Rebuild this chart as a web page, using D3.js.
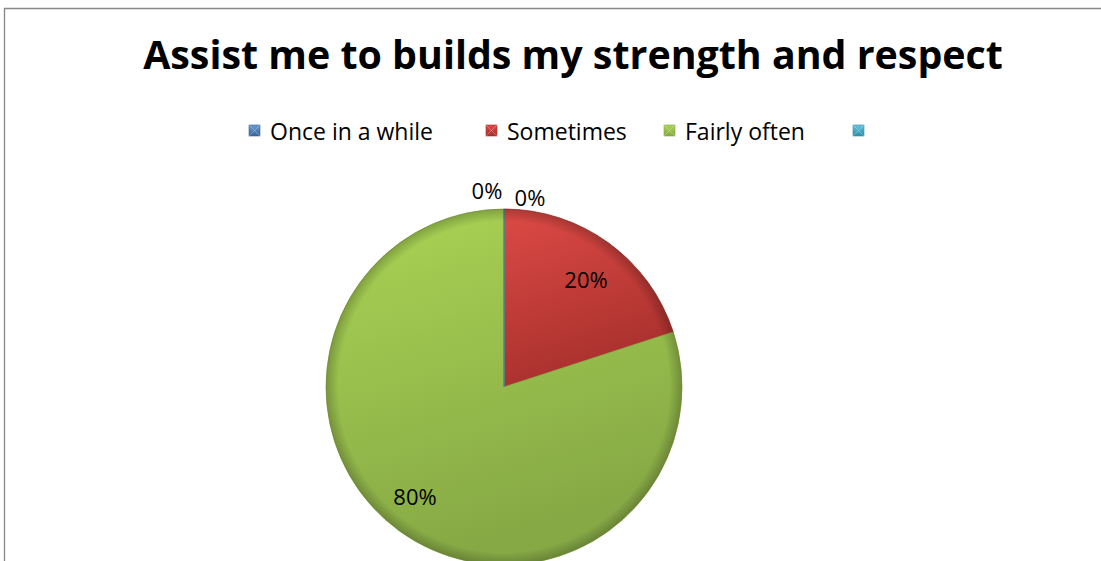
<!DOCTYPE html>
<html>
<head>
<meta charset="utf-8">
<script src="https://cdn.jsdelivr.net/npm/d3@7"></script>
<style>
  html, body { margin: 0; padding: 0; background: #fff; overflow: hidden; }
  svg { display: block; }
  text { font-family: "Open Sans", "Liberation Sans", sans-serif; }
</style>
</head>
<body>
<svg id="chart" width="1101" height="561"></svg>
<script>
// Survey answers for the statement, share of respondents
const categories = ["Once in a while", "Sometimes", "Fairly often", ""];
const values = [0, 20, 80, 0];
const pctLabels = ["0%", "20%", "80%", "0%"];
const titleText = "Assist me to builds my strength and respect";

const colors = {
  light: ["#6a9bd8", "#dd4a45", "#aad454", "#62c6e0"],
  dark: ["#3a6395", "#a8302d", "#86a845", "#2f8ea8"]
};

const svg = d3.select("#chart");
const defs = svg.append("defs");

// chart frame
svg.append("path")
  .attr("d", "M4.5,561 L4.5,8.5 L1101,8.5")
  .attr("fill", "none").attr("stroke", "#868686").attr("stroke-width", 1.3);

// title, sized to span its box
const title = svg.append("text")
  .attr("x", 573).attr("y", 69)
  .attr("text-anchor", "middle")
  .attr("font-weight", "bold")
  .attr("font-size", 36)
  .attr("fill", "#000")
  .text(titleText);
const tw = title.node().getComputedTextLength();
title.attr("font-size", 36 * 860 / tw);

// gradients per slice
categories.forEach((c, i) => {
  const g = defs.append("linearGradient").attr("id", "fill" + i)
    .attr("x1", "0").attr("y1", "0").attr("x2", "0.3").attr("y2", "1");
  g.append("stop").attr("offset", "0%").attr("stop-color", colors.light[i]);
  g.append("stop").attr("offset", "100%").attr("stop-color", colors.dark[i]);

  const m = defs.append("linearGradient").attr("id", "mk" + i)
    .attr("x1", "0").attr("y1", "0").attr("x2", "0").attr("y2", "1");
  m.append("stop").attr("offset", "0%").attr("stop-color", colors.light[i]);
  m.append("stop").attr("offset", "100%").attr("stop-color", colors.dark[i]);
});

// edge shading for the bevel look
const rg = defs.append("radialGradient").attr("id", "edge")
  .attr("gradientUnits", "userSpaceOnUse")
  .attr("cx", 0).attr("cy", 0).attr("r", 178);
rg.append("stop").attr("offset", "0%").attr("stop-color", "#000").attr("stop-opacity", 0);
rg.append("stop").attr("offset", "93%").attr("stop-color", "#000").attr("stop-opacity", 0);
rg.append("stop").attr("offset", "100%").attr("stop-color", "#000").attr("stop-opacity", 0.22);

// legend
const legendX = [249, 486, 664, 853];
const legend = svg.append("g");
categories.forEach((c, i) => {
  const g = legend.append("g").attr("transform", `translate(${legendX[i]},125)`);
  g.append("rect").attr("width", 11).attr("height", 11)
    .attr("fill", `url(#mk${i})`).attr("stroke", colors.dark[i]).attr("stroke-width", 0.6);
  g.append("path").attr("d", "M0,0 L5.5,5.5 L11,0 M0,11 L5.5,5.5 L11,11")
    .attr("fill", "none").attr("stroke", "rgba(255,255,255,0.35)").attr("stroke-width", 0.8);
  g.append("text").attr("x", 21).attr("y", 15)
    .attr("font-size", 23).attr("fill", "#000").text(c);
});

// pie
const cx = 504, cy = 387, r = 178;
const pie = d3.pie().sort(null).value(d => d)(values);
const arc = d3.arc().innerRadius(0).outerRadius(r);
const pg = svg.append("g").attr("transform", `translate(${cx},${cy})`);

pg.selectAll("path.slice").data(pie).join("path")
  .attr("class", "slice")
  .attr("d", arc)
  .attr("fill", (d, i) => `url(#fill${i})`)
  .attr("stroke", (d, i) => colors.dark[i])
  .attr("stroke-width", 0.8);

pg.selectAll("path.edge").data(pie.filter(d => d.value > 0)).join("path")
  .attr("class", "edge")
  .attr("d", arc)
  .attr("fill", "url(#edge)");

// data labels
const labelPos = [[530, 197], [586, 279], [415, 496], [487, 190]];
svg.append("g").selectAll("text").data(pie).join("text")
  .attr("x", (d, i) => labelPos[i][0])
  .attr("y", (d, i) => labelPos[i][1])
  .attr("text-anchor", "middle")
  .attr("dominant-baseline", "central")
  .attr("font-size", 22)
  .attr("fill", "#000")
  .text((d, i) => pctLabels[i]);
</script>
</body>
</html>
